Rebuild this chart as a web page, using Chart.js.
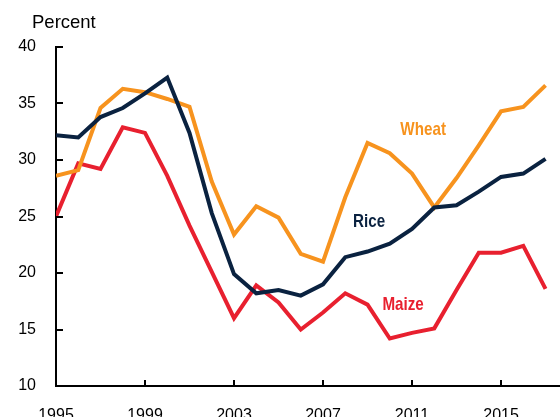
<!DOCTYPE html>
<html>
<head>
<meta charset="utf-8">
<script src="https://cdn.jsdelivr.net/npm/chart.js@4/dist/chart.umd.min.js"></script>
<style>
  html, body { margin: 0; padding: 0; background: #fff; }
  #wrap { width: 560px; height: 417px; }
</style>
</head>
<body>
<div id="wrap"><canvas id="grainChart"></canvas></div>
<script>
// Data
const years = [1995, 1996, 1997, 1998, 1999, 2000, 2001, 2002, 2003, 2004, 2005, 2006,
  2007, 2008, 2009, 2010, 2011, 2012, 2013, 2014, 2015, 2016, 2017];
const rice = [32.2, 32.0, 33.8, 34.6, 35.9, 37.3, 32.4, 25.3, 19.9, 18.2, 18.5, 18.0,
  19.0, 21.4, 21.9, 22.6, 23.9, 25.8, 26.0, 27.2, 28.5, 28.8, 30.1];
const wheat = [28.6, 29.1, 34.6, 36.3, 36.0, 35.4, 34.7, 28.1, 23.4, 25.9, 24.9, 21.7,
  21.0, 26.7, 31.5, 30.6, 28.8, 25.8, 28.4, 31.3, 34.3, 34.7, 36.6];
const maize = [25.0, 29.7, 29.2, 32.9, 32.4, 28.6, 24.2, 20.1, 16.0, 18.9, 17.4, 15.0,
  16.5, 18.2, 17.2, 14.2, 14.7, 15.1, 18.5, 21.8, 21.8, 22.4, 18.6];
const xTicks = [1995, 1999, 2003, 2007, 2011, 2015];
const yTicks = [10, 15, 20, 25, 30, 35, 40];

const seriesLabels = [
  { text: 'Wheat', x: 2011.5, y: 32.7, color: '#f7931e' },
  { text: 'Rice', x: 2009.07, y: 24.5, color: '#0a2240' },
  { text: 'Maize', x: 2010.6, y: 17.2, color: '#e8202f' }
];

const toPoints = arr => arr.map((v, i) => ({ x: years[i], y: v }));

// inside tick marks, series names and the unit label
const decorations = {
  id: 'decorations',
  afterDraw(chart) {
    const { ctx, scales: { x, y } } = chart;
    ctx.save();
    ctx.strokeStyle = '#000';
    ctx.lineWidth = 2;
    xTicks.slice(1).forEach(v => {
      const px = Math.round(x.getPixelForValue(v));
      ctx.beginPath();
      ctx.moveTo(px, y.bottom);
      ctx.lineTo(px, y.bottom - 6);
      ctx.stroke();
    });
    yTicks.slice(1).forEach(v => {
      const py = Math.round(y.getPixelForValue(v));
      ctx.beginPath();
      ctx.moveTo(x.left, py);
      ctx.lineTo(x.left + 7, py);
      ctx.stroke();
    });

    ctx.fillStyle = '#000';
    ctx.font = '18.5px "Liberation Sans", Arial, sans-serif';
    ctx.textAlign = 'left';
    ctx.textBaseline = 'middle';
    ctx.fillText('Percent', 32, 23);

    ctx.font = 'bold 19px "Liberation Sans", Arial, sans-serif';
    ctx.textAlign = 'center';
    seriesLabels.forEach(l => {
      ctx.save();
      ctx.translate(x.getPixelForValue(l.x), y.getPixelForValue(l.y));
      ctx.scale(0.8, 1);
      ctx.fillStyle = l.color;
      ctx.fillText(l.text, 0, 0);
      ctx.restore();
    });
    ctx.restore();
  }
};

const ctx = document.getElementById('grainChart').getContext('2d');
const chart = new Chart(ctx, {
  type: 'line',
  data: {
    datasets: [
      { label: 'Rice', data: toPoints(rice), borderColor: '#0a2240' },
      { label: 'Wheat', data: toPoints(wheat), borderColor: '#f7931e' },
      { label: 'Maize', data: toPoints(maize), borderColor: '#e8202f' }
    ]
  },
  options: {
    responsive: true,
    maintainAspectRatio: false,
    animation: false,
    layout: { padding: { top: 47, right: 0, bottom: 0, left: 0 } },
    elements: {
      line: { borderWidth: 4, tension: 0, borderJoinStyle: 'miter' },
      point: { radius: 0 }
    },
    plugins: { legend: { display: false }, tooltip: { enabled: false } },
    scales: {
      x: {
        type: 'linear',
        min: 1995,
        max: 2017.65,
        afterBuildTicks: s => { s.ticks = xTicks.map(v => ({ value: v })); },
        afterFit: s => { s.height = 31; },
        grid: { display: false, drawTicks: false },
        border: { display: true, color: '#000', width: 2 },
        ticks: {
          autoSkip: false, maxRotation: 0, padding: 20,
          color: '#000',
          font: { family: '"Liberation Sans", Arial, sans-serif', size: 16 },
          callback: v => String(v)
        }
      },
      y: {
        min: 10,
        max: 40,
        afterBuildTicks: s => { s.ticks = yTicks.map(v => ({ value: v })); },
        afterFit: s => { s.width = 56; },
        grid: { display: false, drawTicks: false },
        border: { display: true, color: '#000', width: 2 },
        ticks: {
          padding: 20,
          color: '#000',
          font: { family: '"Liberation Sans", Arial, sans-serif', size: 16 }
        }
      }
    }
  },
  plugins: [decorations]
});
</script>
</body>
</html>
